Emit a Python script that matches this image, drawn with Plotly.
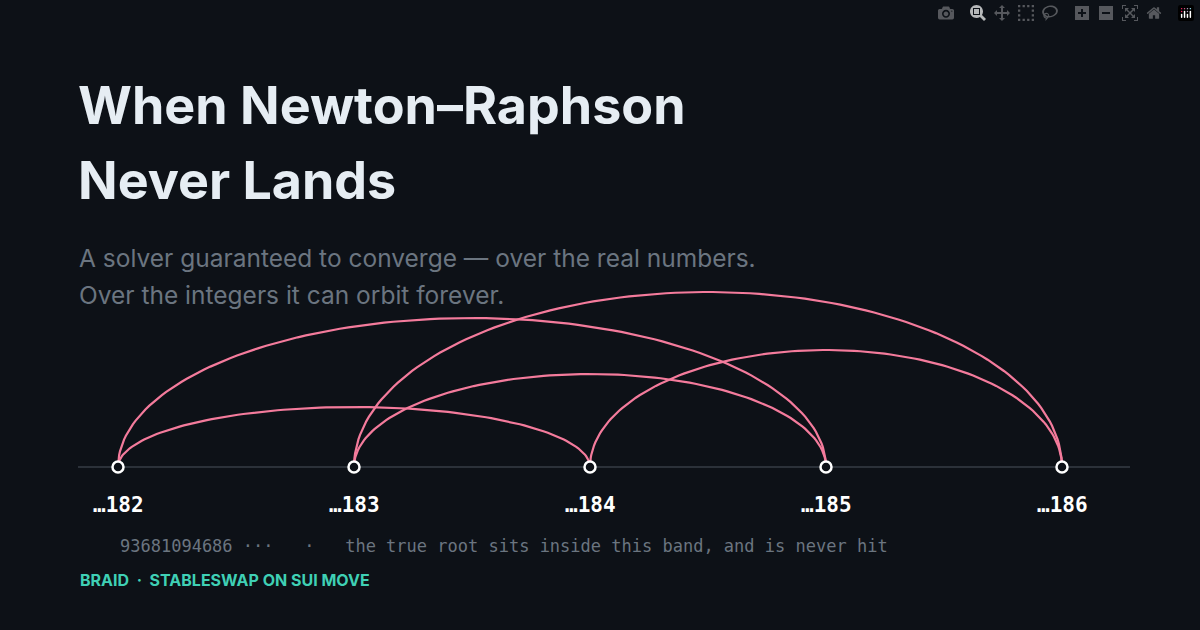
import numpy as np
import plotly.graph_objects as go

nodes = [182, 183, 184, 185, 186]
node_labels = ["…182", "…183", "…184", "…185", "…186"]
edge_from = [182, 182, 183, 183, 184]
edge_to = [184, 185, 185, 186, 186]
edge_height = [60, 149, 93, 175, 117]  # arc rise above baseline (px units on y)

BASE = 467
fig = go.Figure()
t = np.linspace(0, np.pi, 120)
for a, b, h in zip(edge_from, edge_to, edge_height):
    c = (a + b) / 2; r = (b - a) / 2
    fig.add_trace(go.Scatter(x=c - r*np.cos(t), y=BASE - h*np.sin(t), mode="lines",
                             line=dict(color="#f47b9c", width=2.2), hoverinfo="skip"))
fig.add_trace(go.Scatter(x=nodes, y=[BASE]*len(nodes), mode="markers",
                         marker=dict(size=11, color="#0d1117", line=dict(color="#ffffff", width=2.5)),
                         hoverinfo="skip"))
for n, lab in zip(nodes, node_labels):
    fig.add_annotation(x=n, y=505, text=lab, showarrow=False, xanchor="center", yanchor="middle",
                       font=dict(family="DejaVu Sans Mono", size=21, color="#ffffff", weight="bold"))

x0 = 182 - 118/236
x1 = x0 + 1200/236
px = lambda p: x0 + p/236
fig.add_shape(type="line", x0=px(78), x1=px(1130), y0=BASE, y1=BASE, line=dict(color="#2b3139", width=2), layer="below")

def txt(x, y, s, size, color, family="Inter", weight="normal"):
    fig.add_annotation(x=px(x), y=y, text=s, showarrow=False, xanchor="left", yanchor="middle",
                       font=dict(family=family, size=size, color=color, weight=weight))
txt(76, 105, "When Newton–Raphson", 52, "#e6edf3", weight="bold")
txt(76, 180, "Never Lands", 52, "#e6edf3", weight="bold")
txt(77, 258, "A solver guaranteed to converge — over the real numbers.", 24.5, "#6b7580")
txt(77, 295, "Over the integers it can orbit forever.", 24.5, "#6b7580")
txt(118, 546, "93681094686 ···   ·   the true root sits inside this band, and is never hit", 17, "#6b7580", family="DejaVu Sans Mono")
txt(78, 580, "BRAID  ·  STABLESWAP ON SUI MOVE", 16, "#3fd0b5", weight="bold")

fig.update_layout(width=1200, height=630, margin=dict(l=0, r=0, t=0, b=0),
                  paper_bgcolor="#0d1117", plot_bgcolor="#0d1117", showlegend=False,
                  xaxis=dict(range=[x0, x1], visible=False),
                  yaxis=dict(range=[630, 0], visible=False))
fig.write_html("out.html", post_script="document.body.style.margin='0';document.body.style.background='#0d1117';")
